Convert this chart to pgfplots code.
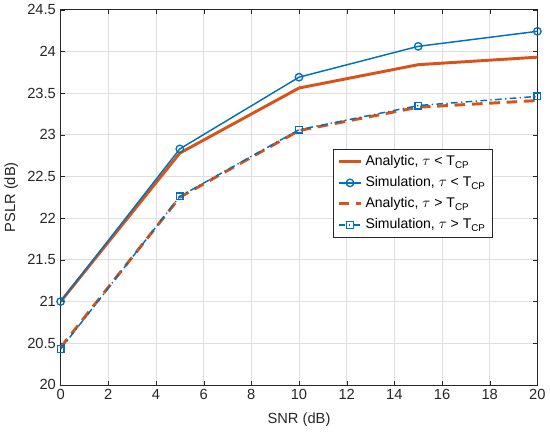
\documentclass[border=0pt]{standalone}
\usepackage{pgfplots}
\pgfplotsset{compat=1.18}
\usepackage{fontspec}
\setmainfont{Liberation Sans}
\definecolor{mblue}{rgb}{0,0.447,0.741}
\definecolor{morange}{rgb}{0.85,0.325,0.098}
\definecolor{axgray}{rgb}{0.15,0.15,0.15}
\begin{document}
\begin{tikzpicture}
\begin{axis}[
  scale only axis,
  width=357pt, height=281pt,
  xmin=0, xmax=20, ymin=20, ymax=24.5,
  xtick={0,2,...,20},
  ytick={20,20.5,...,24.5},
  yticklabel style={/pgf/number format/fixed,/pgf/number format/precision=1},
  /pgf/number format/assume math mode=true,
  tick align=inside,
  major tick length=3pt,
  axis line style={axgray},
  tick style={axgray},
  ticklabel style={font=\fontsize{11}{13}\selectfont, text=axgray},
  label style={font=\fontsize{11}{13}\selectfont, text=axgray},
  xlabel style={yshift=-3pt},
  grid=major,
  major grid style={gray!25, line width=0.5pt},
  xlabel={SNR (dB)},
  ylabel={PSLR (dB)},
  legend style={at={(0.571,0.629)}, anchor=north west, draw=axgray, font=\fontsize{10.5}{13}\selectfont, row sep=2.6pt, inner sep=3pt},
  legend cell align=left,
]
\addplot[morange, line width=2.2pt] coordinates {(0,21.0) (5,22.78) (10,23.56) (15,23.84) (20,23.93)};
\addlegendentry{Analytic, $\tau$ < T\textsubscript{CP}}
\addplot[mblue, line width=1.1pt, mark=o, mark size=2.8pt, mark options={solid, line width=1pt}] coordinates {(0,21.0) (5,22.83) (10,23.69) (15,24.06) (20,24.24)};
\addlegendentry{Simulation, $\tau$ < T\textsubscript{CP}}
\addplot[morange, line width=2.2pt, dash pattern=on 8pt off 5pt] coordinates {(0,20.45) (5,22.25) (10,23.05) (15,23.33) (20,23.41)};
\addlegendentry{Analytic, $\tau$ > T\textsubscript{CP}}
\addplot[mblue, line width=1.1pt, dash pattern=on 5pt off 2.5pt on 1pt off 2.5pt, mark=square, mark size=2.5pt, mark options={solid, line width=1pt}] coordinates {(0,20.43) (5,22.26) (10,23.06) (15,23.35) (20,23.46)};
\addlegendentry{Simulation, $\tau$ > T\textsubscript{CP}}
\end{axis}
\end{tikzpicture}
\end{document}
